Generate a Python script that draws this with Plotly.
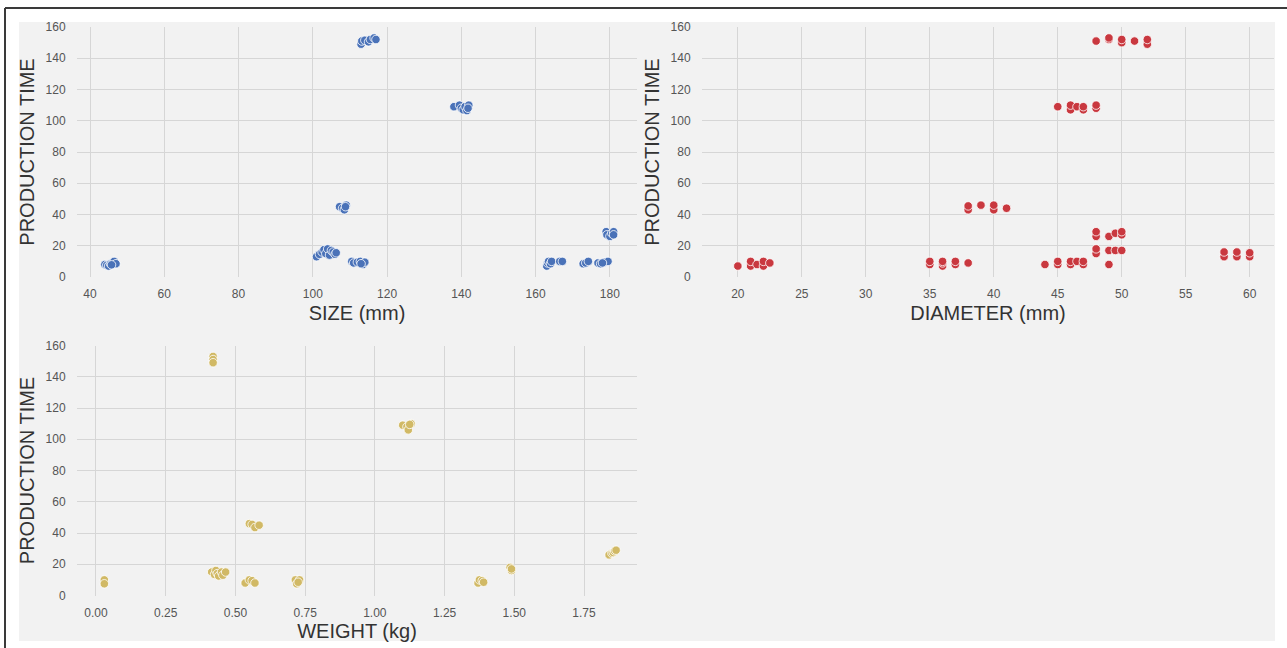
import plotly.graph_objects as go

# ---------------- data ----------------
size_mm = [44, 44.5, 45, 45.5, 46, 46.5, 47, 45.8,
           101, 101.8, 102.5, 103, 103.5, 104, 104.5, 105, 105.5, 106, 106.3,
           107.2, 108, 108.5, 109, 108.8,
           110.5, 111, 112, 112.8, 113.5, 114, 113,
           113, 113.2, 114, 115, 115.5, 116.5, 117,
           138, 139.5, 140, 140.5, 141, 141.5, 142, 141.8,
           163, 163.2, 163.5, 164, 164.3, 166.5, 167.2,
           172.8, 173.5, 174.2,
           176.8, 177.5, 178.5, 179.5, 178,
           179, 179.2, 180, 180.5, 181, 181]
size_time = [8, 7.5, 7, 8.5, 9, 10, 8.5, 7.8,
             13, 14.5, 16, 17.5, 15, 18, 14, 17, 16, 14.5, 15.5,
             45, 44, 43, 46, 45,
             10, 9, 9.5, 10, 8, 9.5, 8.5,
             149, 151, 151.5, 150.5, 152, 153, 152,
             109, 110, 108, 107, 109, 106.5, 110, 108,
             7, 9, 10, 8.5, 10, 10, 10,
             8.5, 9, 10,
             9, 8.5, 9.5, 10, 9,
             29, 27, 26, 28, 29, 27]

diameter_mm = [20, 21, 21, 21.5, 22, 22, 22.5,
               35, 35, 36, 36, 36, 37, 37, 38,
               38, 38, 39, 40, 40, 41,
               44, 45, 45, 46, 46, 46.5, 47, 47,
               45, 46, 46, 46.5, 47, 47, 48, 48,
               48, 49, 49, 50, 50, 51, 52, 52,
               48, 48, 49, 49.5, 50, 50,
               48, 48, 49, 49.5, 50,
               49,
               58, 58, 59, 59, 60, 60]
diameter_time = [7, 7, 10, 8, 7, 10, 9,
                 8, 10, 7, 9, 10, 8, 10, 9,
                 43, 45.5, 46, 43, 46, 44,
                 8, 8, 10, 8, 10, 10, 8, 10,
                 109, 107, 110, 109, 107, 109, 108, 110,
                 151, 152, 153, 150, 152, 151, 149, 152,
                 26, 29, 26, 28, 27, 29,
                 15, 18, 17, 17, 17,
                 8,
                 13, 16, 13, 16, 13, 15.5]

weight_kg = [0.03, 0.03,
             0.42, 0.42, 0.42,
             0.415, 0.425, 0.43, 0.435, 0.44, 0.45, 0.455, 0.465,
             0.55, 0.56, 0.57, 0.585,
             0.535, 0.55, 0.56, 0.57,
             0.715, 0.72, 0.73, 0.725,
             1.10, 1.115, 1.12, 1.13, 1.125,
             1.37, 1.375, 1.385, 1.39,
             1.485, 1.49, 1.49,
             1.84, 1.85, 1.855, 1.86, 1.865]
weight_time = [10, 7.5,
               153, 151, 149,
               15, 13.5, 16, 14, 12.5, 15, 13, 15,
               46, 45.5, 43.5, 45,
               8, 10, 9.5, 8,
               10, 7.5, 10, 8.5,
               109, 108, 106, 110, 109.5,
               8, 10, 9.5, 8.5,
               18, 16, 17,
               26, 27, 27.5, 28.5, 29]

x_titles = ["SIZE (mm)", "DIAMETER (mm)", "WEIGHT (kg)"]
y_title = "PRODUCTION TIME"
colors = ["#4A72B8", "#C9383F", "#D1B965"]

# ---------------- figure ----------------
W, H = 1287, 648
fig = go.Figure()

def px_x(p):
    return p / W

def px_y(p):
    return 1 - p / H

panels = [
    (size_mm, size_time, "x", "y"),
    (diameter_mm, diameter_time, "x2", "y2"),
    (weight_kg, weight_time, "x3", "y3"),
]
for (xs, ys, xa, ya), c in zip(panels, colors):
    fig.add_trace(go.Scatter(
        x=xs, y=ys, mode="markers", xaxis=xa, yaxis=ya, showlegend=False,
        marker=dict(size=8.5, color=c, line=dict(color="white", width=0.8)),
    ))

font_family = "Liberation Sans, Arial, sans-serif"
grid = "#d6d6d6"
tickfont = dict(family=font_family, size=12, color="#555555")
titlefont = dict(family=font_family, size=20, color="#333333")

def xaxis(domain, rng, dtick, title, anchor):
    return dict(domain=domain, range=rng, dtick=dtick, anchor=anchor,
                showgrid=True, gridcolor=grid, gridwidth=1.4, zeroline=False,
                showline=False, ticks="outside", ticklen=6, tickcolor="rgba(0,0,0,0)",
                tickfont=tickfont, automargin=False,
                title=dict(text=title, font=titlefont, standoff=5))

def yaxis(domain, title, anchor):
    return dict(domain=domain, range=[0, 160], dtick=20, anchor=anchor,
                showgrid=True, gridcolor=grid, gridwidth=1.4, zeroline=False,
                showline=False, ticks="outside", ticklen=8, tickcolor="rgba(0,0,0,0)",
                tickfont=tickfont, automargin=False,
                title=dict(text=title, font=titlefont, standoff=5))

top = [px_y(277), px_y(27)]
bottom = [px_y(595.5), px_y(345.5)]
left = [px_x(77), px_x(637)]
right = [px_x(702), px_x(1274)]

fig.update_layout(
    width=W, height=H, template="none",
    margin=dict(l=0, r=0, t=0, b=0),
    paper_bgcolor="white", plot_bgcolor="#f2f2f2",
    font=dict(family=font_family),
    xaxis=xaxis(left, [36.5, 187.3], 20, x_titles[0], "y"),
    yaxis=yaxis(top, y_title, "x"),
    xaxis2=xaxis(right, [17.2, 61.9], 5, x_titles[1], "y2"),
    yaxis2=yaxis(top, y_title, "x2"),
    xaxis3=xaxis(left, [-0.068, 1.94], 0.25, x_titles[2], "y3"),
    yaxis3=yaxis(bottom, y_title, "x3"),
)
fig.update_xaxes(tickformat=".2f", selector=dict(anchor="y3"))

fig.add_shape(type="rect", xref="paper", yref="paper", layer="below",
              x0=px_x(19), x1=px_x(1275), y0=px_y(641), y1=px_y(22),
              fillcolor="#f2f2f2", line=dict(width=0))
fig.add_shape(type="line", xref="paper", yref="paper",
              x0=px_x(5), x1=px_x(5), y0=px_y(8), y1=0,
              line=dict(color="#3a3a3a", width=2))
fig.add_shape(type="line", xref="paper", yref="paper",
              x0=px_x(5), x1=1, y0=px_y(8), y1=px_y(8),
              line=dict(color="#3a3a3a", width=2))

fig.write_html(
    "out.html",
    config={"displayModeBar": False},
    post_script="document.body.style.margin='0';document.body.style.overflow='hidden';",
)
